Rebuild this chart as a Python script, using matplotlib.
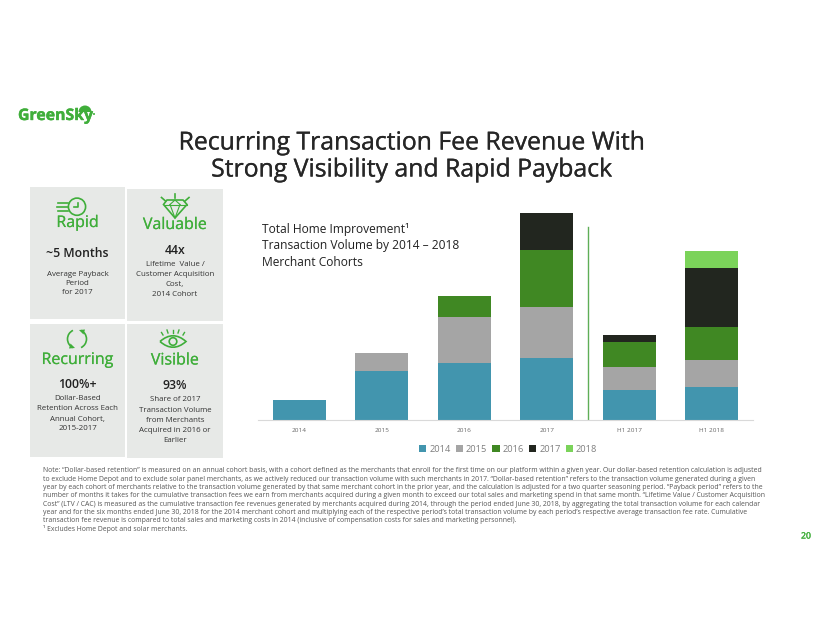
import matplotlib
matplotlib.use("Agg")
import matplotlib.pyplot as plt
import matplotlib.patheffects as pe
from matplotlib.path import Path
from matplotlib.patches import Rectangle, Circle, Wedge, Polygon, Arc, PathPatch

plt.rcParams['font.family'] = ['Open Sans', 'DejaVu Sans']

categories = ["2014", "2015", "2016", "2017", "H1 2017", "H1 2018"]
cohort_names = ["2014", "2015", "2016", "2017", "2018"]
cohort_2014 = [20.0, 49.0, 57.0, 62.7, 30.0, 33.3]
cohort_2015 = [0, 18.3, 46.3, 50.3, 23.3, 26.7]
cohort_2016 = [0, 0, 21.3, 57.3, 25.3, 33.3]
cohort_2017 = [0, 0, 0, 37.3, 7.0, 59.3]
cohort_2018 = [0, 0, 0, 0, 0, 17.0]
series = [cohort_2014, cohort_2015, cohort_2016, cohort_2017, cohort_2018]
colors = ["#4295AE", "#A5A5A5", "#408823", "#22261F", "#7BD35A"]

title_lines = ["Recurring Transaction Fee Revenue With", "Strong Visibility and Rapid Payback"]
chart_title = ["Total Home Improvement¹", "Transaction Volume by 2014 – 2018", "Merchant Cohorts"]
note_lines = [
    "Note: “Dollar-based retention” is measured on an annual cohort basis, with a cohort defined as the merchants that enroll for the first time on our platform within a given year. Our dollar-based retention calculation is adjusted",
    "to exclude Home Depot and to exclude solar panel merchants, as we actively reduced our transaction volume with such merchants in 2017. “Dollar-based retention” refers to the transaction volume generated during a given",
    "year by each cohort of merchants relative to the transaction volume generated by that same merchant cohort in the prior year, and the calculation is adjusted for a two quarter seasoning period. “Payback period” refers to the",
    "number of months it takes for the cumulative transaction fees we earn from merchants acquired during a given month to exceed our total sales and marketing spend in that same month. “Lifetime Value / Customer Acquisition",
    "Cost” (LTV / CAC) is measured as the cumulative transaction fee revenues generated by merchants acquired during 2014, through the period ended June 30, 2018, by aggregating the total transaction volume for each calendar",
    "year and for the six months ended June 30, 2018 for the 2014 merchant cohort and multiplying each of the respective period’s total transaction volume by each period’s respective average transaction fee rate. Cumulative",
    "transaction fee revenue is compared to total sales and marketing costs in 2014 (inclusive of compensation costs for sales and marketing personnel).",
    "¹ Excludes Home Depot and solar merchants.",
]
GREEN = "#3FAE3A"
W, H = 822, 635
fig = plt.figure(figsize=(W / 100, H / 100), dpi=100, facecolor="white")

def heavy(width, color):
    return [pe.withStroke(linewidth=width, foreground=color)]

# page layer in pixel coordinates
pg = fig.add_axes([0, 0, 1, 1], zorder=0)
pg.set_xlim(0, W); pg.set_ylim(H, 0); pg.axis("off")

for x0, x1, y0, y1 in [(30, 125, 187, 319), (127, 223, 189, 321), (30, 125, 324, 457), (127, 223, 324, 458)]:
    pg.add_patch(Rectangle((x0, y0), x1 - x0, y1 - y0, fc="#E7E9E7", ec="none"))

# logo
pg.text(18, 116, "GreenSky", fontsize=11.4, fontweight="bold", color=GREEN, va="center", ha="left",
        path_effects=heavy(0.3, GREEN))
pg.add_patch(Wedge((85, 112), 6.5, 180, 360, fc=GREEN, ec="none"))
pg.add_patch(Circle((94, 114), 1.0, fc=GREEN, ec="none"))

pg.text(411, 143, title_lines[0], fontsize=17.85, color="#262626", ha="center", va="center",
        path_effects=heavy(0.2, "#262626"))
pg.text(411, 170, title_lines[1], fontsize=17.85, color="#262626", ha="center", va="center",
        path_effects=heavy(0.2, "#262626"))

def head(x, y, s, size=11.5):
    pg.text(x, y, s, fontsize=size, color=GREEN, ha="center", va="center", path_effects=heavy(0.12, GREEN))
def big(x, y, s):
    pg.text(x, y, s, fontsize=8.8, color="#222222", fontweight="semibold", ha="center", va="center")
def small(x, ys, lines):
    for yy, s in zip(ys, lines):
        pg.text(x, yy, s, fontsize=5.65, color="#333333", ha="center", va="center")

head(77.5, 223, "Rapid")
big(77.5, 253.5, "~5 Months")
small(77.5, [274, 283.5, 293], ["Average Payback", "Period", "for 2017"])

head(175, 225, "Valuable")
big(175, 250.5, "44x")
small(175, [264, 274.5, 284.5, 294.5], ["Lifetime  Value /", "Customer Acquisition", "Cost,", "2014 Cohort"])

head(77.5, 360, "Recurring")
big(77.5, 385, "100%+")
small(77.5, [399, 409, 419, 429], ["Dollar-Based", "Retention Across Each", "Annual Cohort,", "2015-2017"])

head(175, 360.5, "Visible")
big(175, 385.5, "93%")
small(175, [399.5, 410, 420, 430, 440], ["Share of 2017", "Transaction Volume", "from Merchants", "Acquired in 2016 or", "Earlier"])

# icons
lw = 1.2
pg.add_patch(Circle((77, 206.7), 8.6, fc="none", ec=GREEN, lw=lw))
pg.plot([77.5, 77.5, 74], [202.5, 207, 207], color=GREEN, lw=lw)
for yy, x0 in [(203.3, 58), (206.9, 56.5), (210.5, 58)]:
    pg.plot([x0, 67.5], [yy, yy], color=GREEN, lw=lw)

pg.add_patch(Polygon([(163.5, 204.5), (167, 200), (183, 200), (187, 204.5), (175, 218)], closed=True, fc="none", ec=GREEN, lw=lw))
pg.plot([163.5, 187], [204.5, 204.5], color=GREEN, lw=0.8)
pg.plot([170, 175, 180], [204.5, 218, 204.5], color=GREEN, lw=0.8)
pg.plot([170, 175, 180], [204.5, 200, 204.5], color=GREEN, lw=0.8)
pg.plot([175, 175], [194, 198], color=GREEN, lw=lw)
pg.plot([161.5, 165.5], [197.5, 201], color=GREEN, lw=lw)
pg.plot([189, 185], [197.5, 201], color=GREEN, lw=lw)

pg.add_patch(Arc((77, 339), 19, 19, theta1=115, theta2=245, ec=GREEN, lw=lw))
pg.add_patch(Arc((77, 339), 19, 19, theta1=295, theta2=65, ec=GREEN, lw=lw))
pg.add_patch(Polygon([(79, 330), (85, 329.5), (83.5, 334.5)], closed=True, fc=GREEN, ec="none"))
pg.add_patch(Polygon([(75, 348), (69, 348.5), (70.5, 343.5)], closed=True, fc=GREEN, ec="none"))

eye = Path([(160, 341.5), (173, 330), (186, 341.5), (173, 353), (160, 341.5)],
           [Path.MOVETO, Path.CURVE3, Path.CURVE3, Path.CURVE3, Path.CURVE3])
pg.add_patch(PathPatch(eye, fc="none", ec=GREEN, lw=lw))
pg.add_patch(Circle((173, 341.5), 3.8, fc="none", ec=GREEN, lw=lw))
for x0, x1, y0, y1 in [(163, 161.5, 335, 332.5), (168, 167, 333, 330), (173, 173, 332.5, 329.5), (178, 179, 333, 330), (183, 184.5, 335, 332.5)]:
    pg.plot([x0, x1], [y0, y1], color=GREEN, lw=1.0)

# notes
for i, s in enumerate(note_lines):
    pg.text(42.7, 471 + i * 8.28, s, fontsize=4.92, color="#555555", ha="left", va="center")
pg.text(806, 536, "20", fontsize=6.2, color=GREEN, ha="center", va="center", path_effects=heavy(0.25, GREEN))

# chart layer
base, top = 420.3, 212.7
left, right = 258, 753
ax = fig.add_axes([left / W, 1 - base / H, (right - left) / W, (base - top) / H], zorder=1)
ax.patch.set_alpha(0)
ax.set_xlim(-0.5, 5.5)
ax.set_ylim(0, sum(s[3] for s in series))
xs = list(range(len(categories)))
bottom = [0.0] * len(xs)
for name, vals, col in zip(cohort_names, series, colors):
    ax.bar(xs, vals, 0.64, bottom=bottom, color=col, label=name)
    bottom = [b + v for b, v in zip(bottom, vals)]
ax.axvline(3.5, ymin=0, ymax=0.931, color="#5FAE57", lw=1.0)
for s in ["top", "left", "right"]:
    ax.spines[s].set_visible(False)
ax.spines["bottom"].set_color("#D9D9D9")
ax.set_yticks([])
ax.set_xticks(xs, categories)
ax.tick_params(axis="x", length=0, pad=5.5, labelsize=4.6, labelcolor="#666666")
leg = ax.legend(loc="center", bbox_to_anchor=((508 - left) / (right - left), (base - 449) / (base - top)),
                ncol=5, frameon=False, fontsize=6.7, labelcolor="#7F7F7F", handlelength=0.8, handleheight=0.8,
                handletextpad=0.3, columnspacing=0.55, borderpad=0)

for yy, s in zip([229.5, 245.5, 262], chart_title):
    pg.text(262, yy, s, fontsize=8.65, color="#222222", ha="left", va="center")

fig.savefig("out.png", dpi=100, facecolor="white")
